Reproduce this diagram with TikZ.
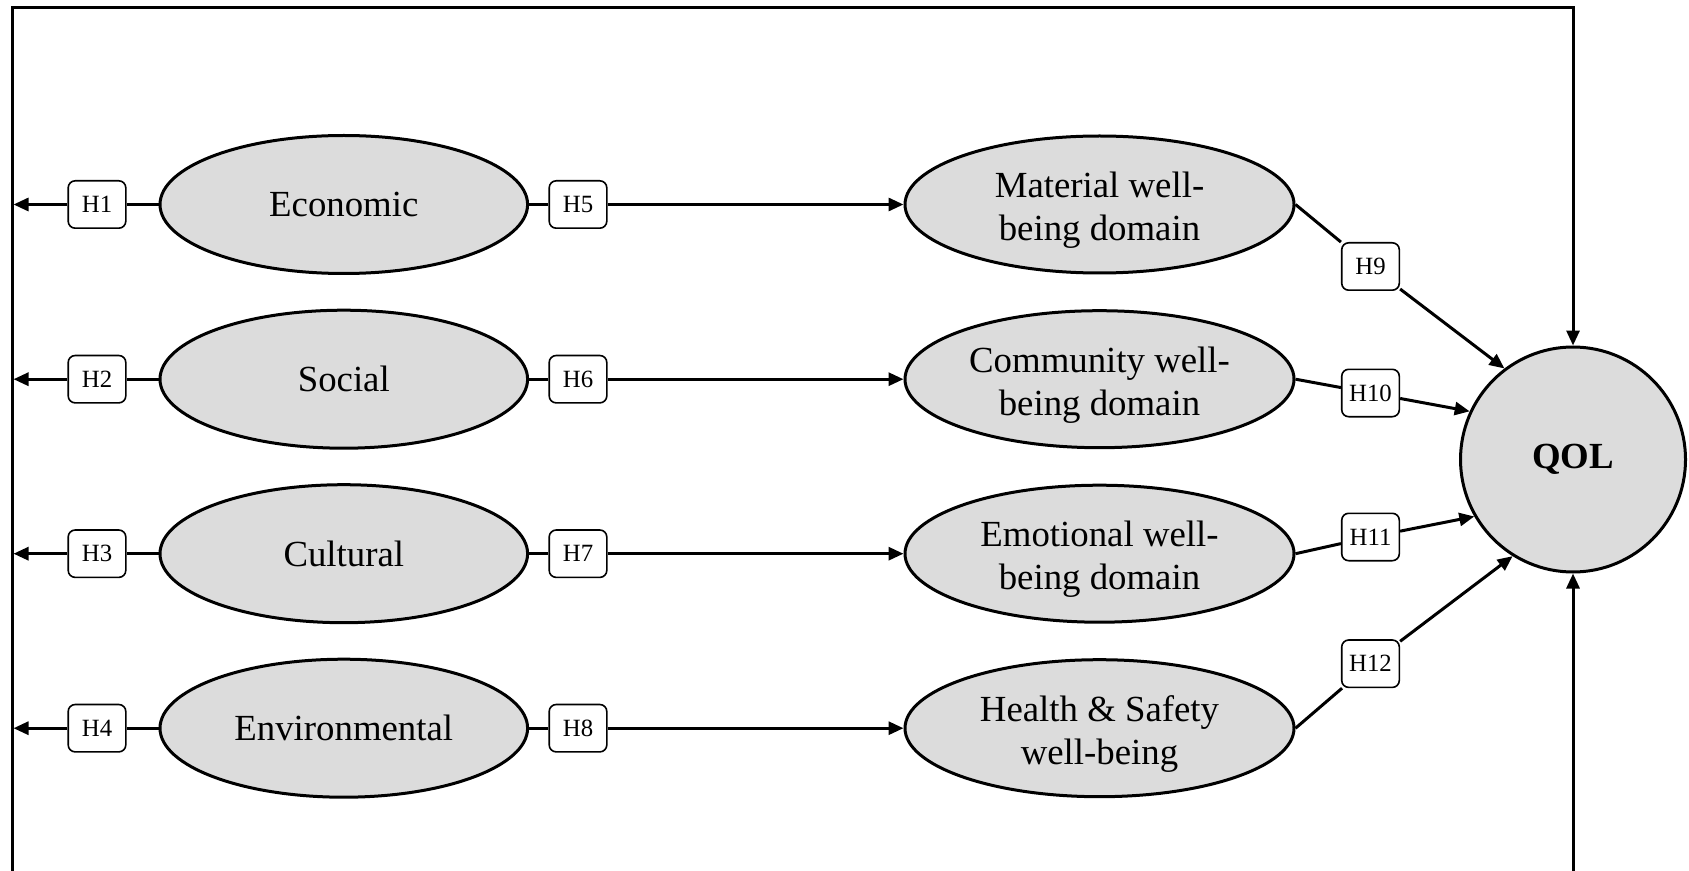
\documentclass[tikz,border=0pt]{standalone}
\usepackage{fontspec}
\setmainfont{Liberation Serif}
\usetikzlibrary{arrows.meta,shapes.geometric}

\definecolor{nodegray}{RGB}{220,220,220}

% extra room above the first of two lines, which lowers the text block
\newcommand{\toproom}{\rule{0pt}{18.6pt}}

\tikzset{
  construct/.style={ellipse, draw, fill=nodegray, line width=1.5pt,
    minimum width=183.8pt, minimum height=69pt, inner sep=0pt,
    align=center, font=\fontsize{18.4pt}{21.5pt}\selectfont},
  wbdomain/.style={construct, minimum width=194.5pt, minimum height=68.5pt},
  outcome/.style={circle, draw, fill=nodegray, line width=1.5pt,
    minimum size=112.5pt, inner sep=0pt,
    font=\fontsize{18.4pt}{20.9pt}\selectfont\bfseries},
  hyp/.style={rectangle, rounded corners=3.5pt, draw, fill=white,
    line width=0.8pt, minimum width=28.8pt, minimum height=23.7pt,
    inner sep=0pt, font=\fontsize{12.4pt}{14pt}\selectfont},
  link/.style={line width=1.5pt},
  conn/.style={line width=1.5pt, -{Triangle[length=7.5pt,width=6.5pt]}},
}

\begin{document}
\begin{tikzpicture}[x=0.5pt,y=-0.5pt]
\useasboundingbox (0,0) rectangle (1689,871);

% dimension constructs
\node[construct] (eco) at (343.8,204.5) {Economic};
\node[construct] (soc) at (343.8,379.2) {Social};
\node[construct] (cul) at (343.8,553.7) {Cultural};
\node[construct] (env) at (343.8,728.2) {Environmental};

% well-being domains
\node[wbdomain] (mat) at (1099.5,204.5) {\toproom Material well-\\being domain};
\node[wbdomain] (com) at (1099.5,379.2) {\toproom Community well-\\being domain};
\node[wbdomain] (emo) at (1099.5,553.7) {\toproom Emotional well-\\being domain};
\node[wbdomain] (hea) at (1099.5,728.2) {\toproom Health \& Safety\\well-being};

% quality of life
\node[outcome] (qol) at (1573,459.5) {QOL};

% hypothesis labels
\node[hyp] (h1) at (97,204.5) {H1};
\node[hyp] (h2) at (97,379.2) {H2};
\node[hyp] (h3) at (97,553.7) {H3};
\node[hyp] (h4) at (97,728.2) {H4};
\node[hyp] (h5) at (578,204.5) {H5};
\node[hyp] (h6) at (578,379.2) {H6};
\node[hyp] (h7) at (578,553.7) {H7};
\node[hyp] (h8) at (578,728.2) {H8};
\node[hyp] (h9) at (1370.5,266.5) {H9};
\node[hyp] (h10) at (1370.5,393) {H10};
\node[hyp] (h11) at (1370.5,537) {H11};
\node[hyp] (h12) at (1370.5,663.7) {H12};

% frame line ends
\coordinate (fbl) at (12,873);
\coordinate (ftr) at (1573,7.3);
\coordinate (fbr) at (1573,873);
\coordinate (t1) at (13.5,204.5);
\coordinate (t2) at (13.5,379.2);
\coordinate (t3) at (13.5,553.7);
\coordinate (t4) at (13.5,728.2);

% frame around the model
\draw[conn, line join=miter] (fbl) |- (ftr) -- (qol.north);
\draw[conn] (fbr) -- (qol.south);

% links to the frame
\foreach \c/\h/\t in {eco/h1/t1, soc/h2/t2, cul/h3/t3, env/h4/t4}{
  \draw[link] (\c.west) -- (\h);
  \draw[conn] (\h) -- (\t);
}

% constructs to domains
\foreach \c/\h/\d in {eco/h5/mat, soc/h6/com, cul/h7/emo, env/h8/hea}{
  \draw[link] (\c.east) -- (\h);
  \draw[conn] (\h) -- (\d.west);
}

% domains to QOL
\foreach \d/\h/\a in {mat/h9/127, com/h10/155.5, emo/h11/210, hea/h12/238.5}{
  \draw[link] (\d.east) -- (\h);
  \draw[conn] (\h) -- (qol.\a);
}
\end{tikzpicture}
\end{document}
